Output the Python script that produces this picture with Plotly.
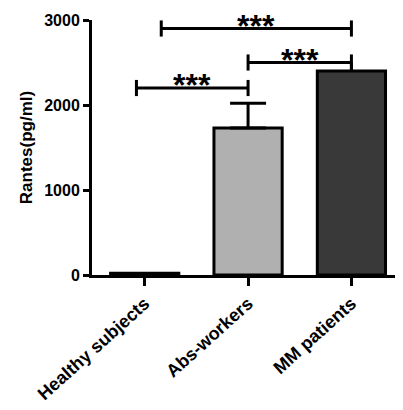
import plotly.graph_objects as go

categories = ["Healthy subjects", "Abs-workers", "MM patients"]
values = [20, 1730, 2400]
errors = [0, 290, 100]
cap_widths = [0, 18, 0]
bar_colors = ["#ffffff", "#b0b0b0", "#393939"]

# significance brackets: (x0, x1, y, label)
brk_x0 = [-0.08, 1.0, 0.16]
brk_x1 = [1.0, 2.0, 2.0]
brk_y = [2200, 2500, 2900]
brk_label = ["***", "***", "***"]

yticks = [0, 1000, 2000, 3000]

FONT = "Liberation Sans, Arial, sans-serif"

fig = go.Figure()
for i, (c, v, e) in enumerate(zip(categories, values, errors)):
    fig.add_trace(go.Bar(
        x=[i], y=[v], width=0.66,
        marker=dict(color=bar_colors[i], line=dict(color="black", width=3)),
        error_y=dict(type="data", array=[e], symmetric=False, arrayminus=[0],
                     color="black", thickness=3, width=cap_widths[i], visible=e > 0),
        showlegend=False, name=c,
    ))

cap = 95
for x0, x1, y, lab in zip(brk_x0, brk_x1, brk_y, brk_label):
    fig.add_trace(go.Scatter(
        x=[x0, x0, None, x0, x1, None, x1, x1],
        y=[y - cap, y + cap, None, y, y, None, y - cap, y + cap],
        mode="lines", line=dict(color="black", width=3),
        showlegend=False, hoverinfo="skip", cliponaxis=False,
    ))
    fig.add_annotation(x=(x0 + x1) / 2, y=y, text=lab, showarrow=False,
                       yanchor="middle", yshift=3,
                       font=dict(family=FONT, size=32, color="black", weight="bold"))

fig.update_layout(
    width=403, height=410,
    margin=dict(l=84, r=11, t=12, b=143, autoexpand=False),
    plot_bgcolor="white", paper_bgcolor="white",
    barmode="overlay",
)
fig.update_xaxes(
    range=[-0.51, 2.47], tickvals=[0, 1, 2], ticktext=categories,
    tickangle=-42, ticks="outside", ticklen=8, tickwidth=2.5, tickcolor="black",
    showline=True, linecolor="black", linewidth=3, showgrid=False, zeroline=False,
    automargin=False,
    tickfont=dict(family=FONT, size=18, color="black", weight="bold"),
)
fig.update_yaxes(
    range=[0, 3000], tickvals=yticks, ticks="outside", ticklen=6, tickwidth=2.5,
    tickcolor="black", showline=True, linecolor="black", linewidth=3,
    showgrid=False, zeroline=False, automargin=False,
    tickfont=dict(family=FONT, size=16, color="black", weight="bold"),
    title=dict(text="Rantes(pg/ml)", standoff=8,
               font=dict(family=FONT, size=17, color="black", weight="bold")),
)

fig.write_html("out.html")
